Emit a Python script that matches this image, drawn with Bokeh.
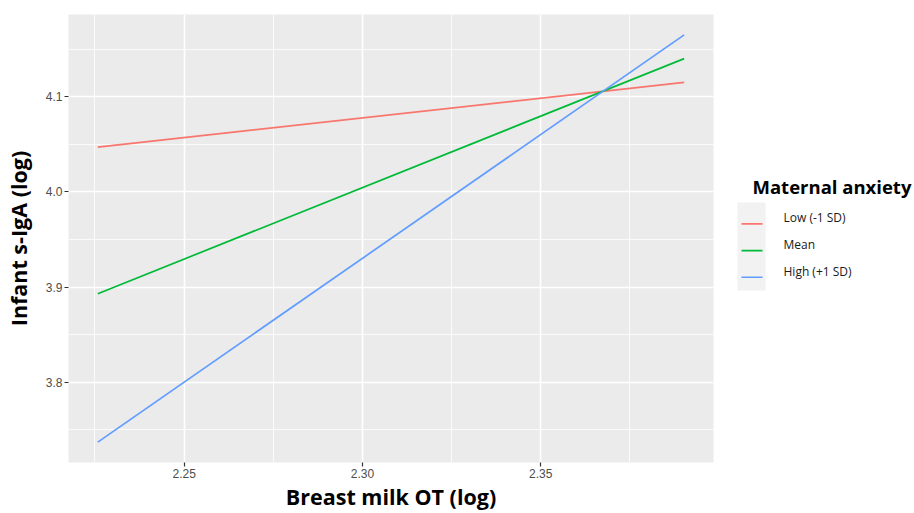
from bokeh.plotting import figure
from bokeh.models import Range1d, FixedTicker, PrintfTickFormatter
from bokeh.layouts import row
from bokeh.core.properties import value
from bokeh.embed import file_html
from bokeh.resources import INLINE

# ---- data ----
x_vals = [2.2258, 2.3902]
low_vals = [4.047, 4.115]
mean_vals = [3.893, 4.140]
high_vals = [3.737, 4.165]
series_names = ["Low (-1 SD)", "Mean", "High (+1 SD)"]
series_colors = ["#F8766D", "#00BA38", "#619CFF"]
legend_title = "Maternal anxiety"
x_ticks = [2.25, 2.30, 2.35]
x_minor = [2.225, 2.275, 2.325, 2.375]
y_ticks = [3.8, 3.9, 4.0, 4.1]
y_minor = [3.75, 3.85, 3.95, 4.05, 4.15]

# ggplot-like 5% expansion
xr = x_vals[1] - x_vals[0]
all_y = low_vals + mean_vals + high_vals
ymin, ymax = min(all_y), max(all_y)
yr = ymax - ymin

H = 513
TOP, BOTTOM = 14, 51
p = figure(width=725, height=H, output_backend="svg", toolbar_location=None,
           x_range=Range1d(x_vals[0] - 0.05 * xr, x_vals[1] + 0.05 * xr),
           y_range=Range1d(ymin - 0.05 * yr, ymax + 0.05 * yr),
           min_border_left=68, min_border_right=12, min_border_top=TOP, min_border_bottom=BOTTOM)

p.background_fill_color = "#EBEBEB"
p.border_fill_color = "white"
p.outline_line_color = None

p.xaxis.ticker = FixedTicker(ticks=x_ticks, minor_ticks=x_minor)
p.yaxis.ticker = FixedTicker(ticks=y_ticks, minor_ticks=y_minor)
p.xaxis.formatter = PrintfTickFormatter(format="%.2f")
p.yaxis.formatter = PrintfTickFormatter(format="%.1f")

for g in (p.xgrid, p.ygrid):
    g.grid_line_color = "white"
    g.grid_line_width = 1.6
    g.minor_grid_line_color = "white"
    g.minor_grid_line_width = 0.8

for ax in (p.xaxis, p.yaxis):
    ax.axis_line_color = None
    ax.major_tick_line_color = "#333333"
    ax.major_tick_line_width = 1.2
    ax.major_tick_out = 4
    ax.major_tick_in = 0
    ax.minor_tick_line_color = None
    ax.major_label_text_font = "Liberation Sans"
    ax.major_label_text_font_size = "12px"
    ax.major_label_text_color = "#4D4D4D"
    ax.axis_label_text_font = "Open Sans"
    ax.axis_label_text_font_style = "bold"
    ax.axis_label_text_font_size = "21.5px"
    ax.axis_label_text_color = "black"

p.xaxis.axis_label = "Breast milk OT (log)"
p.yaxis.axis_label = "Infant s-IgA (log)"
p.xaxis.major_label_standoff = 2
p.xaxis.axis_label_standoff = 1
p.yaxis.major_label_standoff = 2
p.yaxis.axis_label_standoff = 10

for vals, color in zip([low_vals, mean_vals, high_vals], series_colors):
    p.line(x_vals, vals, line_color=color, line_width=1.7)

# ---- legend panel (ggplot-style, drawn in its own figure; pixel coordinates) ----
LW = 914 - 725
leg = figure(width=LW, height=H, output_backend="svg", toolbar_location=None,
             x_range=Range1d(725, 914), y_range=Range1d(H - BOTTOM, TOP),
             x_axis_location=None, y_axis_location=None,
             min_border_left=0, min_border_right=0,
             min_border_top=TOP, min_border_bottom=BOTTOM)
leg.grid.visible = False
leg.outline_line_color = None
leg.background_fill_color = "white"
leg.border_fill_color = "white"

n = len(series_names)
key_left, key_right = 737, 765
key_top, item_h = 210, 26.7
line_y = [key_top + item_h * (i + 0.5) for i in range(n)]
label_y = [y - 6 for y in line_y]

leg.quad(left=key_left, right=key_right, top=key_top - 8, bottom=key_top + item_h * n,
         fill_color="#F2F2F2", line_color=None)
for y, color in zip(line_y, series_colors):
    leg.line([741, 762], [y, y], line_color=color, line_width=1.7)
leg.text(x=[783] * n, y=label_y, text=series_names, text_font=value("Open Sans"),
         text_font_size="12px", text_color="#1A1A1A", text_baseline="middle", text_align="left")
leg.text(x=[752], y=[186], text=[legend_title], text_font=value("Open Sans"),
         text_font_style="bold", text_font_size="18.5px", text_color="black",
         text_baseline="middle", text_align="left")

layout = row(p, leg, spacing=0)
open("out.html", "w").write(file_html(layout, INLINE))
